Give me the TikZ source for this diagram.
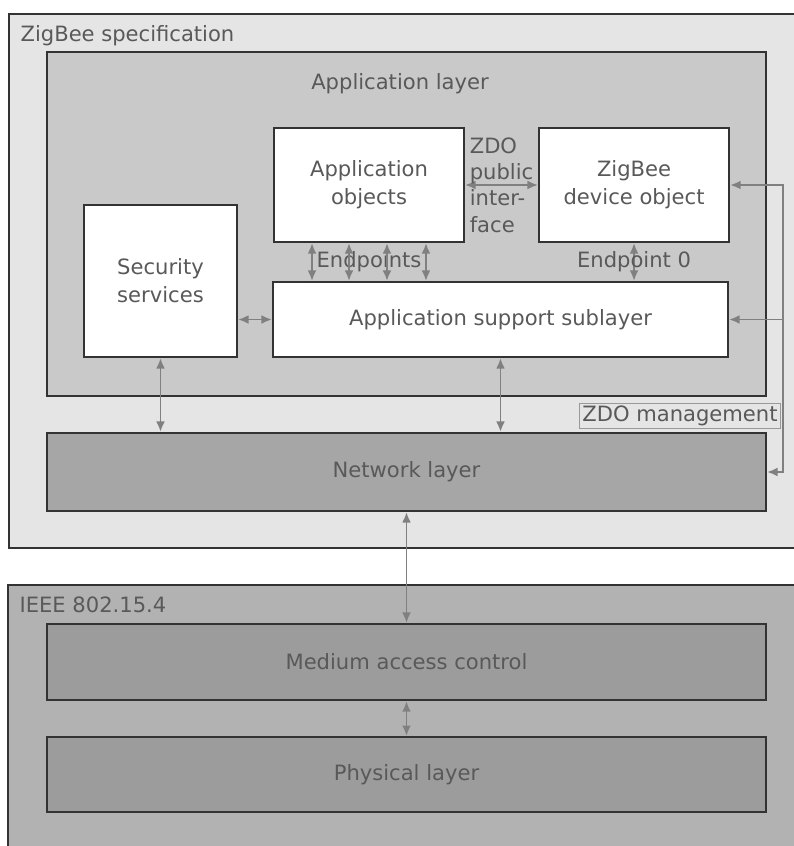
\documentclass[tikz,border=0pt]{standalone}
\usepackage{fontspec}
\setmainfont{DejaVu Sans}
\usetikzlibrary{positioning,arrows.meta,fit}

\begin{document}
\begin{tikzpicture}[x=0.02cm,y=-0.02cm,
  font=\fontsize{12}{16}\selectfont,text=black!65,
  layer/.style={draw=black!80,line width=1.2pt,inner sep=0pt},
  whitebox/.style={layer,fill=white,align=center},
  arr/.style={draw=black!50,line width=1.1pt,{Latex[length=6pt,width=5pt]}-{Latex[length=6pt,width=5pt]}},
  tag/.style={inner sep=0pt}]
\clip (0,0) rectangle (794,846);
% ZigBee specification
\node[layer,fill=black!10,fit={(9,14) (830,548)}] (spec) {};
\node[tag,below right=7pt and 7pt of spec.north west] (speclbl) {ZigBee specification};
\node[layer,fill=black!21,minimum width=14.38cm,minimum height=6.88cm] at (406.5,224) (app) {};
\node at (400,84) (applbl) {Application layer};
\node[whitebox,minimum width=3.8cm,minimum height=2.28cm] at (369,185) (aobj) {Application\\objects};
\node[whitebox,minimum width=3.8cm,minimum height=2.28cm,right=1.46cm of aobj] (zdo) {ZigBee\\device object};
\node[whitebox,minimum width=3.06cm,minimum height=3.04cm] at (160.5,281) (sec) {Security\\services};
\node[whitebox,minimum width=9.1cm,minimum height=1.5cm] at (500.5,319.5) (aps) {Application support sublayer};
\node[layer,fill=black!35,minimum width=14.38cm,minimum height=1.56cm] at (406.5,472) (nwk) {Network layer};
\draw[arr] (aobj.east) -- node[align=left,font=\fontsize{12}{15}\selectfont]{ZDO\\public\\inter-\\face} (zdo.west);
\path (aobj.south) -- node{Endpoints} (aobj.south |- aps.north);
\foreach \dx in {-1.14,-0.4,0.36,1.14}
  \draw[arr] ([xshift=\dx cm]aobj.south) -- ([xshift=\dx cm]aobj.south |- aps.north);
\draw[arr] (zdo.south) -- node{Endpoint 0} (zdo.south |- aps.north);
\draw[arr] (aps.west -| sec.east) -- (aps.west);
\draw[arr] (sec.south) -- (sec.south |- nwk.north);
\draw[arr] (aps.south) -- (aps.south |- nwk.north);
% ZDO management
\coordinate (bus) at (783,0);
\draw[arr] (zdo.east) -- (zdo.east -| bus) -- (bus |- nwk.east) -- (nwk.east);
\draw[arr,-{Latex[length=6pt,width=5pt]}] (bus |- aps.east) -- (aps.east);
\node[draw=black!40,line width=0.8pt,fill=black!10,inner sep=1.5pt] at (680,416) (mgmt) {ZDO management};
% IEEE 802.15.4
\node[layer,fill=black!30,fit={(8,585) (830,880)}] (ieee) {};
\node[tag,below right=7pt and 7pt of ieee.north west] (ieeelbl) {IEEE 802.15.4};
\node[layer,fill=black!39,minimum width=14.38cm,minimum height=1.52cm,below=2.22cm of nwk] (mac) {Medium access control};
\node[layer,fill=black!39,minimum width=14.38cm,minimum height=1.5cm,below=0.7cm of mac] (phy) {Physical layer};
\draw[arr] (nwk.south) -- (mac.north);
\draw[arr] (mac.south) -- (phy.north);
\end{tikzpicture}
\end{document}
